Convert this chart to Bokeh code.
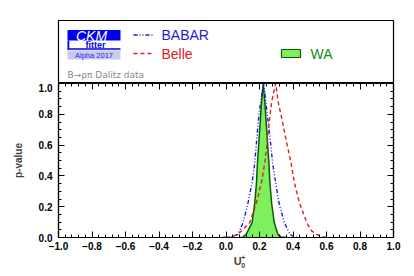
from bokeh.plotting import figure
from bokeh.models import Range1d, LinearAxis, SingleIntervalTicker, CustomJSTickFormatter, Label
from bokeh.layouts import column
from bokeh.embed import file_html
from bokeh.resources import INLINE

# ---- data ----
babar_x = [-0.02, 0.03, 0.072, 0.102, 0.132, 0.156, 0.172, 0.182, 0.192, 0.206, 0.225,
           0.238, 0.252, 0.266, 0.278, 0.296, 0.316, 0.348, 0.382, 0.41, 0.45]
babar_p = [0.0, 0.004, 0.02, 0.097, 0.227, 0.357, 0.487, 0.617, 0.747, 0.877, 1.0,
           0.877, 0.747, 0.617, 0.487, 0.357, 0.227, 0.097, 0.02, 0.004, 0.0]

belle_x = [0.0, 0.03, 0.07, 0.10, 0.142, 0.182, 0.212, 0.232, 0.246, 0.258, 0.272, 0.296,
           0.312, 0.338, 0.362, 0.388, 0.408, 0.438, 0.482, 0.51, 0.54, 0.58, 0.62]
belle_p = [0.0, 0.003, 0.02, 0.05, 0.097, 0.227, 0.357, 0.487, 0.617, 0.747, 0.877, 1.0,
           0.877, 0.747, 0.617, 0.487, 0.357, 0.227, 0.097, 0.045, 0.02, 0.003, 0.0]

wa_x = [0.08, 0.10, 0.12, 0.156, 0.172, 0.182, 0.188, 0.196, 0.204, 0.212, 0.222,
        0.232, 0.240, 0.248, 0.256, 0.262, 0.272, 0.288, 0.31, 0.33, 0.36]
wa_p = [0.0, 0.002, 0.02, 0.097, 0.227, 0.357, 0.487, 0.617, 0.747, 0.877, 1.0,
        0.877, 0.747, 0.617, 0.487, 0.357, 0.227, 0.097, 0.02, 0.003, 0.0]

series_names = ["BABAR", "Belle", "WA"]
title_text = "B\u2192\u03c1\u03c0 Dalitz data"
y_title = "p-value"

BLUE = "#1a1ad8"
RED = "#dd2020"
GREEN_FILL = "#7ef05c"
GREEN_LINE = "#0a5a0a"
GREEN_TEXT = "#138a13"
FONT = "Liberation Sans"

W = 414
BL, BR = 58, 21          # left / right borders -> frame width 335

# ---- main plot ----
main = figure(width=W, height=172, x_range=Range1d(-1, 1), y_range=Range1d(0, 1),
              output_backend="svg", toolbar_location=None,
              min_border_left=BL, min_border_right=BR, min_border_top=0, min_border_bottom=18,
              x_axis_location=None, y_axis_location=None)
main.grid.visible = False
main.outline_line_color = "black"
main.outline_line_width = 1.2


def style(ax, ticker, labels):
    ax.ticker = ticker
    ax.major_tick_in = 6
    ax.major_tick_out = 0
    ax.minor_tick_in = 3
    ax.minor_tick_out = 0
    ax.axis_line_color = "black"
    ax.axis_line_width = 1.2
    ax.major_tick_line_color = "black"
    ax.minor_tick_line_color = "black"
    ax.major_label_text_font = FONT
    ax.major_label_text_font_style = "bold"
    ax.major_label_text_font_size = "10px"
    ax.major_label_text_color = "black"
    ax.major_label_standoff = 4
    if not labels:
        ax.major_label_text_color = None
        ax.major_label_text_font_size = "1px"
        ax.major_label_standoff = 0


fmt = CustomJSTickFormatter(code="return tick.toFixed(1).replace('-', '\u2212');")

for loc, lab in (("below", True), ("above", False)):
    ax = LinearAxis()
    style(ax, SingleIntervalTicker(interval=0.2, num_minor_ticks=5), lab)
    ax.formatter = fmt
    main.add_layout(ax, loc)
for loc, lab in (("left", True), ("right", False)):
    ax = LinearAxis()
    style(ax, SingleIntervalTicker(interval=0.2, num_minor_ticks=4), lab)
    ax.formatter = fmt
    if lab:
        ax.major_label_standoff = 6
        ax.axis_label = y_title
        ax.axis_label_text_font = FONT
        ax.axis_label_text_font_style = "bold"
        ax.axis_label_text_font_size = "10px"
        ax.axis_label_standoff = 12
    main.add_layout(ax, loc)

main.varea(x=wa_x, y1=0, y2=wa_p, fill_color=GREEN_FILL)
main.line(wa_x, wa_p, line_color=GREEN_LINE, line_width=1.5)
main.line(babar_x, babar_p, line_color=BLUE, line_width=1.4, line_dash="4 2 1 2 1 2")
main.line(belle_x, belle_p, line_color=RED, line_width=1.4, line_dash="4 3")

# ---- footer with the x-axis title (U with sub 0, sup +) ----
foot = figure(width=W, height=21, x_range=Range1d(0, W), y_range=Range1d(21, 0),
              output_backend="svg", toolbar_location=None,
              min_border_left=0, min_border_right=0, min_border_top=0, min_border_bottom=0,
              x_axis_location=None, y_axis_location=None)
foot.grid.visible = False
foot.outline_line_color = None
foot.add_layout(Label(x=221.5, y=5, text="U", text_font=FONT, text_font_style="bold",
                      text_font_size="11px", text_align="center", text_baseline="middle"))
foot.add_layout(Label(x=226, y=10, text="0", text_font=FONT, text_font_style="bold",
                      text_font_size="7px", text_align="left", text_baseline="middle"))
foot.add_layout(Label(x=226, y=2, text="+", text_font=FONT, text_font_style="bold",
                      text_font_size="7px", text_align="left", text_baseline="middle"))

# ---- legend / header panel ----
leg = figure(width=W, height=83, x_range=Range1d(0, 335), y_range=Range1d(63, 0),
             output_backend="svg", toolbar_location=None,
             min_border_left=BL, min_border_right=BR, min_border_top=20, min_border_bottom=0,
             x_axis_location=None, y_axis_location=None)
leg.grid.visible = False
leg.outline_line_color = "black"
leg.outline_line_width = 1.2

# CKMfitter logo
leg.quad(left=9, right=62, top=9.5, bottom=20, fill_color="#0000ee", line_color=None)
leg.quad(left=9, right=10.8, top=20, bottom=29, fill_color="#0000ee", line_color=None)
leg.quad(left=9, right=62, top=27.8, bottom=29.3, fill_color="#0000ee", line_color=None)
leg.quad(left=9, right=62, top=30, bottom=39, fill_color="#c9c9f2", line_color=None)
leg.add_layout(Label(x=33, y=15, text="CKM", text_color="white", text_font=FONT,
                     text_font_style="italic", text_font_size="14px",
                     text_align="center", text_baseline="middle"))
leg.add_layout(Label(x=37, y=24.2, text="fitter", text_color="#0000ee", text_font=FONT,
                     text_font_style="bold", text_font_size="9px",
                     text_align="center", text_baseline="middle"))
leg.add_layout(Label(x=35.5, y=34.5, text="Alpha 2017", text_color="#2a2ae0", text_font=FONT,
                     text_font_size="7.5px", text_align="center", text_baseline="middle"))

# legend entries
leg.line([75, 94], [14.5, 14.5], line_color=BLUE, line_width=1.4, line_dash="4 2 1 2 1 2")
leg.line([75, 94], [33, 33], line_color=RED, line_width=1.4, line_dash="4 3")
leg.quad(left=223, right=242, top=29, bottom=37, fill_color=GREEN_FILL,
         line_color=GREEN_LINE, line_width=1.2)
for x, y, t, c in ((103, 14.5, series_names[0], BLUE), (103, 33, series_names[1], RED),
                   (252, 33, series_names[2], GREEN_TEXT)):
    leg.add_layout(Label(x=x, y=y, text=t, text_color=c, text_font=FONT, text_font_size="14px",
                         text_align="left", text_baseline="middle"))
leg.add_layout(Label(x=9, y=54, text=title_text, text_color="#8a8a8a", text_font="DejaVu Sans",
                     text_font_size="9px", text_align="left", text_baseline="middle"))

layout = column(leg, main, foot, spacing=0)
open("out.html", "w").write(file_html(layout, INLINE))
